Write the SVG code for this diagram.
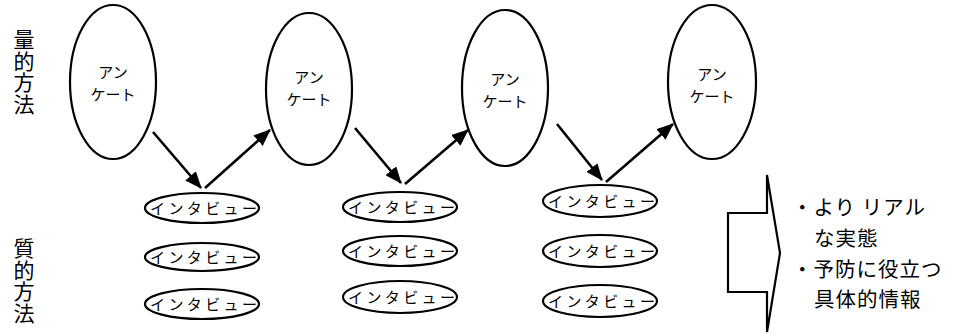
<svg xmlns="http://www.w3.org/2000/svg" width="960" height="334" viewBox="0 0 960 334">
<style>
.shape{fill:#fff;stroke:#000;stroke-width:2.2}
.t{font-family:"Noto Sans CJK JP","Noto Sans CJK SC",sans-serif;fill:#000}
.ank{font-size:15px;text-anchor:middle}
.iv{font-size:15px;letter-spacing:3.4px}
.lbl{font-size:21px;writing-mode:vertical-rl;letter-spacing:0.5px}
.res{font-size:20.5px;letter-spacing:1px}
.conn line{stroke:#000;stroke-width:2.6}
</style>
<defs>
<marker id="ah" markerUnits="userSpaceOnUse" markerWidth="18" markerHeight="14" refX="16" refY="7" orient="auto">
<path d="M0,0 L17,7 L0,14 Z" fill="#000"/>
</marker>
</defs>
<g id="label-quant">
<text class="t lbl" x="24" y="29">量的方法</text>
</g>
<g id="label-qual">
<text class="t lbl" x="24" y="238">質的方法</text>
</g>
<g id="survey1">
<ellipse class="shape" cx="113" cy="82" rx="43" ry="77"/>
<text class="t ank" x="113" y="78">アン<tspan x="113" dy="22">ケート</tspan></text>
</g>
<g id="survey2">
<ellipse class="shape" cx="309" cy="89" rx="43" ry="76"/>
<text class="t ank" x="309" y="83">アン<tspan x="309" dy="22">ケート</tspan></text>
</g>
<g id="survey3">
<ellipse class="shape" cx="505" cy="88" rx="43" ry="78"/>
<text class="t ank" x="505" y="85">アン<tspan x="505" dy="22">ケート</tspan></text>
</g>
<g id="survey4">
<ellipse class="shape" cx="712" cy="82" rx="44" ry="77"/>
<text class="t ank" x="712" y="80">アン<tspan x="712" dy="22">ケート</tspan></text>
</g>
<g id="interview1a"><ellipse class="shape" cx="202" cy="208" rx="57" ry="15"/><text class="t iv" x="150" y="214">インタビュー</text></g>
<g id="interview1b"><ellipse class="shape" cx="202" cy="257" rx="57" ry="14"/><text class="t iv" x="150" y="263">インタビュー</text></g>
<g id="interview1c"><ellipse class="shape" cx="202" cy="304" rx="57" ry="15"/><text class="t iv" x="150" y="310">インタビュー</text></g>
<g id="interview2a"><ellipse class="shape" cx="400" cy="207" rx="57" ry="15"/><text class="t iv" x="348" y="213">インタビュー</text></g>
<g id="interview2b"><ellipse class="shape" cx="400" cy="251" rx="57" ry="15"/><text class="t iv" x="348" y="257">インタビュー</text></g>
<g id="interview2c"><ellipse class="shape" cx="400" cy="297" rx="57" ry="16"/><text class="t iv" x="348" y="303">インタビュー</text></g>
<g id="interview3a"><ellipse class="shape" cx="600" cy="201" rx="57" ry="16"/><text class="t iv" x="548" y="207">インタビュー</text></g>
<g id="interview3b"><ellipse class="shape" cx="600" cy="251" rx="57" ry="16"/><text class="t iv" x="548" y="257">インタビュー</text></g>
<g id="interview3c"><ellipse class="shape" cx="600" cy="301" rx="57" ry="16"/><text class="t iv" x="548" y="307">インタビュー</text></g>
<g class="conn" id="connectors">
<line x1="153" y1="132" x2="201" y2="188" marker-end="url(#ah)"/>
<line x1="205" y1="188" x2="270" y2="130" marker-end="url(#ah)"/>
<line x1="355" y1="128" x2="401" y2="183" marker-end="url(#ah)"/>
<line x1="405" y1="184" x2="468" y2="130" marker-end="url(#ah)"/>
<line x1="557" y1="124" x2="602" y2="180" marker-end="url(#ah)"/>
<line x1="606" y1="182" x2="673" y2="124" marker-end="url(#ah)"/>
</g>
<g id="result-arrow">
<polygon class="shape" points="728,213 767,213 767,175 780,253 767,332 767,292 728,292"/>
</g>
<g id="result-text">
<text class="t res" x="792" y="215">・より リアル</text>
<text class="t res" x="814" y="246">な実態</text>
<text class="t res" x="792" y="276.5">・予防に役立つ</text>
<text class="t res" x="814" y="307">具体的情報</text>
</g>
</svg>
